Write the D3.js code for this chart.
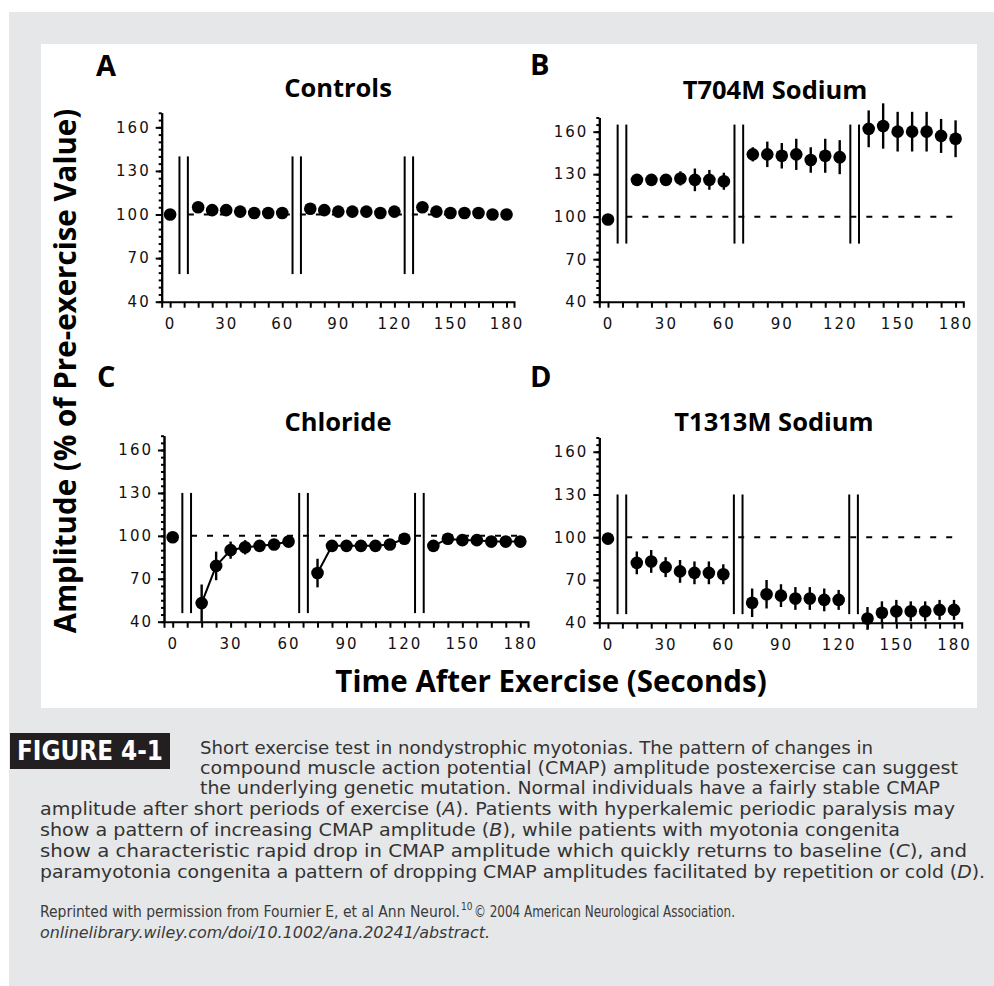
<!DOCTYPE html>
<html>
<head>
<meta charset="utf-8">
<script src="https://cdn.jsdelivr.net/npm/d3@7"></script>
<style>
  body { margin: 0; background: #fff; }
  .tick text { font-family: "DejaVu Sans", Verdana, sans-serif; font-size: 15px; letter-spacing: 2px; fill: #111; }
  .title { font-family: "Open Sans", sans-serif; font-weight: 700; font-size: 25.5px; }
  .letter { font-family: "Open Sans", sans-serif; font-weight: 700; font-size: 29px; }
  .axlab { font-family: "Open Sans", sans-serif; font-weight: 700; font-size: 29.5px; }
  .cap { font-family: "Liberation Sans Narrow", "DejaVu Sans Condensed", "Roboto", sans-serif; font-stretch: condensed; font-size: 18px; fill: #333; }
  .credit { font-family: "Liberation Sans Narrow", "DejaVu Sans Condensed", "Roboto", sans-serif; font-stretch: condensed; font-size: 15px; fill: #3a3a3a; }
</style>
</head>
<body>
<div id="viz"></div>
<script>

// sample times (s after exercise), one value per dot
var times = [0, 15, 22.5, 30, 37.5, 45, 52.5, 60, 75, 82.5, 90, 97.5, 105, 112.5, 120, 135, 142.5, 150, 157.5, 165, 172.5, 180];

var controlsMean = [100, 105, 103, 103, 102, 101, 101, 101, 104, 103, 102, 102, 102, 101, 102, 105, 102, 101, 101, 101, 100, 100];
var controlsErr  = [0, 1, 1, 1, 1, 1, 1, 1, 1, 1, 1, 1, 1, 1, 1, 1, 1, 1, 1, 1, 1, 1];

var t704mMean = [98, 126, 126, 126, 127, 126, 126, 125, 144, 144, 143, 144, 140, 143, 142, 162, 164, 160, 160, 160, 157, 155];
var t704mErr  = [0, 0, 0, 0, 5, 8, 7, 6, 5, 9, 9, 11, 9, 12, 12, 13, 16, 14, 14, 14, 12, 13];

var chlorideMean = [99, 53, 79, 90, 92, 93, 94, 96, 74, 93, 93, 93, 93, 94, 98, 93, 98, 97, 97, 96, 96, 96];
var chlorideErr  = [0, 13, 10, 6, 5, 3, 2, 1, 10, 3, 2, 2, 2, 2, 1, 2, 1, 1, 1, 1, 1, 1];

var t1313mMean = [99, 82, 83, 79, 76, 75, 75, 74, 54, 60, 59, 57, 57, 56, 56, 43, 47, 48, 48, 48, 49, 49];
var t1313mErr  = [0, 8, 8, 7, 8, 8, 8, 7, 10, 10, 8, 8, 8, 8, 7, 8, 8, 8, 7, 7, 7, 7];

var panelLetters = ["A", "B", "C", "D"];
var panelTitles = ["Controls", "T704M Sodium", "Chloride", "T1313M Sodium"];

// exercise periods, drawn as double bars
var exerciseBreaks = [[5, 9.5], [65.5, 70], [125.5, 130]];
var breakSpans = [[59, 140], [81, 165], [46, 130], [46, 130]];

var yTicks = [40, 70, 100, 130, 160];
var xTicks = [0, 30, 60, 90, 120, 150, 180];

var captionLines = [
  "Short exercise test in nondystrophic myotonias. The pattern of changes in",
  "compound muscle action potential (CMAP) amplitude postexercise can suggest",
  "the underlying genetic mutation. Normal individuals have a fairly stable CMAP",
  "amplitude after short periods of exercise (|A|). Patients with hyperkalemic periodic paralysis may",
  "show a pattern of increasing CMAP amplitude (|B|), while patients with myotonia congenita",
  "show a characteristic rapid drop in CMAP amplitude which quickly returns to baseline (|C|), and",
  "paramyotonia congenita a pattern of dropping CMAP amplitudes facilitated by repetition or cold (|D|)."
];

var series = [
  {mean: controlsMean, err: controlsErr, joined: false},
  {mean: t704mMean, err: t704mErr, joined: false},
  {mean: chlorideMean, err: chlorideErr, joined: true},
  {mean: t1313mMean, err: t1313mErr, joined: false}
];

// layout of each plot box (pixels)
var boxes = [
  {x0: 161.7, x1: 514, yb: 301.7, yt: 112.8, title: [338, 97], letter: [96, 76]},
  {x0: 599.3, x1: 963.3, yb: 301.7, yt: 117.5, title: [775, 99], letter: [530, 75]},
  {x0: 164, x1: 528, yb: 621.7, yt: 435.7, title: [338, 431], letter: [97, 387]},
  {x0: 599.3, x1: 961.7, yb: 622.7, yt: 437.5, title: [774, 431], letter: [530, 387]}
];

var W = 994, H = 986;
var svg = d3.select("#viz").append("svg").attr("width", W).attr("height", H);

svg.append("rect").attr("x", 9).attr("y", 12).attr("width", W - 9).attr("height", H - 12).attr("fill", "#e6e7e8");
svg.append("rect").attr("x", 41).attr("y", 44).attr("width", 936).attr("height", 664).attr("fill", "#fff");

boxes.forEach(function(b, i){
  var s = series[i];
  var data = times.map(function(t, j){ return {t: t, m: s.mean[j], e: s.err[j]}; });

  var x = d3.scaleLinear().domain([-4.5, 184]).range([b.x0, b.x1]);
  var y = d3.scaleLinear().domain([40, 170]).range([b.yb, b.yt]);

  var g = svg.append("g").attr("class", "panel");

  // minor y ticks
  g.append("g")
      .attr("transform", "translate(" + b.x0 + ",0)")
      .call(d3.axisLeft(y).tickValues(d3.range(40, 171, 5)).tickSize(3).tickSizeOuter(0).tickFormat(""));

  // major y ticks + labels
  g.append("g")
      .attr("transform", "translate(" + b.x0 + ",0)")
      .call(d3.axisLeft(y).tickValues(yTicks).tickSize(6).tickSizeOuter(0).tickPadding(5));

  // x ticks every 7.5 s
  g.append("g")
      .attr("transform", "translate(0," + b.yb + ")")
      .call(d3.axisBottom(x).tickValues(d3.range(0, 181, 7.5)).tickSize(6).tickSizeOuter(6).tickFormat(""));

  g.append("g")
      .attr("class", "xlab")
      .attr("transform", "translate(0," + b.yb + ")")
      .call(d3.axisBottom(x).tickValues(xTicks).tickSize(0).tickPadding(17))
      .select(".domain").remove();

  g.selectAll(".domain, .tick line").attr("stroke", "#000").attr("stroke-width", 2);

  // baseline 100%
  g.append("line")
      .attr("x1", x(exerciseBreaks[0][1])).attr("x2", x(181.5))
      .attr("y1", y(100)).attr("y2", y(100))
      .attr("stroke", "#000").attr("stroke-width", 2)
      .attr("stroke-dasharray", "6,10");

  // exercise bars
  exerciseBreaks.forEach(function(p){
    p.forEach(function(t){
      g.append("line")
          .attr("x1", x(t)).attr("x2", x(t))
          .attr("y1", y(breakSpans[i][0])).attr("y2", y(breakSpans[i][1]))
          .attr("stroke", "#000").attr("stroke-width", 2);
    });
  });

  // connecting line within each block (chloride)
  if (s.joined) {
    var blocks = [data.slice(1, 8), data.slice(8, 15), data.slice(15, 22)];
    var line = d3.line().x(function(d){ return x(d.t); }).y(function(d){ return y(d.m); });
    blocks.forEach(function(bl){
      g.append("path").attr("d", line(bl)).attr("fill", "none").attr("stroke", "#000").attr("stroke-width", 2);
    });
  }

  // error bars
  g.selectAll(".err").data(data).enter().append("line")
      .attr("class", "err")
      .attr("x1", function(d){ return x(d.t); })
      .attr("x2", function(d){ return x(d.t); })
      .attr("y1", function(d){ return y(d.m - d.e); })
      .attr("y2", function(d){ return y(d.m + d.e); })
      .attr("stroke", "#000").attr("stroke-width", 2.4);

  // dots
  g.selectAll(".dot").data(data).enter().append("circle")
      .attr("class", "dot")
      .attr("cx", function(d){ return x(d.t); })
      .attr("cy", function(d){ return y(d.m); })
      .attr("r", 6.3)
      .attr("fill", "#000");

  g.append("text").attr("class", "title")
      .attr("x", b.title[0]).attr("y", b.title[1])
      .attr("text-anchor", "middle")
      .text(panelTitles[i]);

  g.append("text").attr("class", "letter")
      .attr("x", b.letter[0]).attr("y", b.letter[1])
      .text(panelLetters[i]);
});

// shared axis titles
svg.append("text").attr("class", "axlab")
    .attr("transform", "translate(76,371) rotate(-90)")
    .attr("text-anchor", "middle")
    .text("Amplitude (% of Pre-exercise Value)");

svg.append("text").attr("class", "axlab")
    .attr("x", 551).attr("y", 692)
    .attr("text-anchor", "middle")
    .text("Time After Exercise (Seconds)");

// caption
svg.append("rect").attr("x", 10).attr("y", 733).attr("width", 160).attr("height", 36).attr("fill", "#231f20");
svg.append("text")
    .attr("x", 90).attr("y", 760)
    .attr("text-anchor", "middle")
    .attr("fill", "#fff")
    .attr("textLength", 146).attr("lengthAdjust", "spacingAndGlyphs")
    .style("font-family", "'Liberation Sans Narrow', 'DejaVu Sans Condensed', sans-serif")
    .style("font-weight", "700")
    .style("font-size", "26px")
    .text("FIGURE 4-1");

var capX = [200, 200, 200, 40, 40, 40, 40];
var capEnd = [873, 958, 940, 955, 900, 967, 985];
var capY = [754, 774, 794, 815, 836, 857, 878];

captionLines.forEach(function(l, i){
  var t = svg.append("text").attr("class", "cap")
      .attr("x", capX[i]).attr("y", capY[i])
      .attr("textLength", capEnd[i] - capX[i])
      .attr("lengthAdjust", "spacingAndGlyphs");
  l.split("|").forEach(function(part, k){
    t.append("tspan").style("font-style", k % 2 ? "italic" : "normal").text(part);
  });
});

// credit line: pieces placed one after another
var cr1 = svg.append("text").attr("class", "credit")
    .attr("x", 40).attr("y", 917)
    .attr("textLength", 420).attr("lengthAdjust", "spacingAndGlyphs")
    .text("Reprinted with permission from Fournier E, et al Ann Neurol.");
var e1 = 40 + 420;
svg.append("text").attr("class", "credit")
    .attr("x", e1 + 1).attr("y", 910)
    .style("font-size", "10px")
    .text("10");
svg.append("text").attr("class", "credit")
    .attr("x", e1 + 14).attr("y", 917)
    .attr("textLength", 735 - e1 - 14).attr("lengthAdjust", "spacingAndGlyphs")
    .text("\u00a9 2004 American Neurological Association.");

svg.append("text").attr("class", "credit")
    .attr("x", 40).attr("y", 938)
    .attr("textLength", 450).attr("lengthAdjust", "spacingAndGlyphs")
    .style("font-style", "italic")
    .text("onlinelibrary.wiley.com/doi/10.1002/ana.20241/abstract.");

</script>
</body>
</html>
